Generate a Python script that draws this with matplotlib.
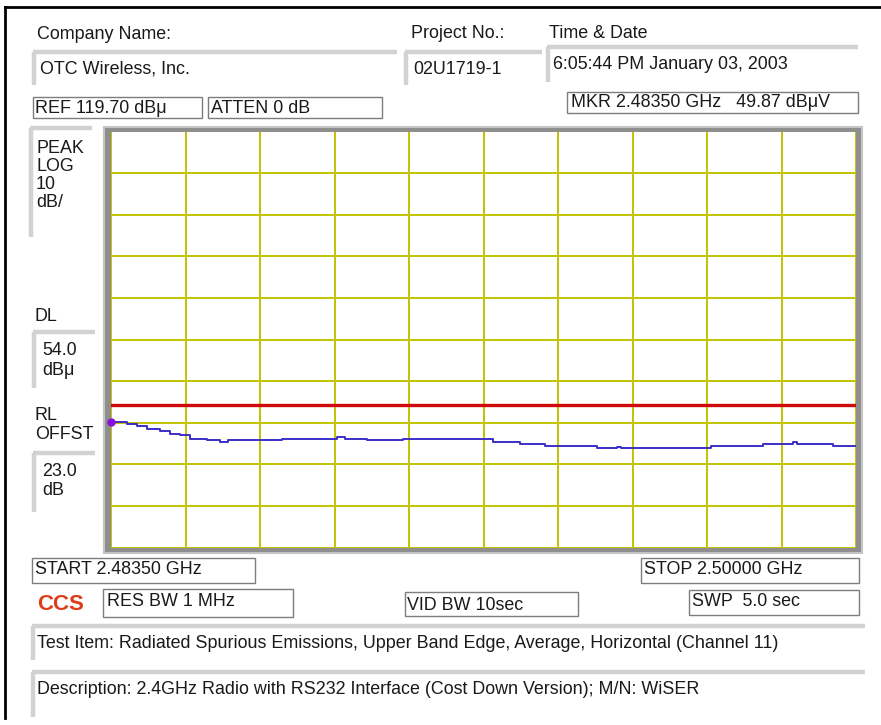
import numpy as np
import matplotlib
matplotlib.use('Agg')
import matplotlib.pyplot as plt
from matplotlib.patches import Rectangle

plt.rcParams['font.family'] = ['Liberation Sans', 'DejaVu Sans']

# sweep settings
start_ghz = 2.48350
stop_ghz = 2.50000
ref_level = 119.70
db_per_div = 10
display_line = 54.0
marker_freq = 2.48350
marker_level = 49.87

# trace (GHz, dBuV), step style
trace_freq = [2.48350, 2.48385, 2.48408, 2.48430, 2.48459, 2.48481, 2.48503, 2.48525,
              2.48563, 2.48591, 2.48609, 2.48729, 2.48851, 2.48868, 2.48917, 2.48997,
              2.49196, 2.49256, 2.49311, 2.49426, 2.49471, 2.49480, 2.49679, 2.49794,
              2.49861, 2.49870, 2.49949, 2.50000]
trace_level = [49.87, 49.3, 48.8, 48.1, 47.6, 47.1, 46.7, 45.9,
               45.6, 45.1, 45.5, 45.8, 46.3, 45.8, 45.5, 45.8,
               45.1, 44.7, 44.1, 43.6, 43.9, 43.6, 44.1, 44.7,
               45.0, 44.7, 44.1, 44.1]

W, H = 881, 725
fig = plt.figure(figsize=(W / 100, H / 100), dpi=100)
fig.patch.set_facecolor('white')

# overlay axes in pixel units for the instrument panel
bg = fig.add_axes([0, 0, 1, 1])
bg.set_xlim(0, W)
bg.set_ylim(H, 0)
bg.axis('off')

fs = 12.9
bevel = '#d2d2d2'
boxedge = '#7d7d7d'

def txt(s, x, y, **kw):
    kw.setdefault('fontsize', fs)
    kw.setdefault('color', '#1a1a1a')
    bg.text(x, y, s, ha='left', va='center', **kw)

def sunken(x0, x1, y0, y1):
    bg.plot([x0, x1], [y0, y0], color=bevel, lw=3.2, solid_capstyle='butt')
    bg.plot([x0 + 1, x0 + 1], [y0, y1], color=bevel, lw=3.2, solid_capstyle='butt')

def box(x0, x1, y0, y1):
    bg.add_patch(Rectangle((x0, y0), x1 - x0, y1 - y0, facecolor='white',
                           edgecolor=boxedge, lw=1.0))

# black screenshot border
bg.plot([5, 5], [7, 718], color='black', lw=2)
bg.plot([5, W], [7, 7], color='black', lw=2)

# header fields
txt('Company Name:', 37, 34)
sunken(33, 397, 52, 85)
txt('OTC Wireless, Inc.', 40, 69)
txt('Project No.:', 411, 33)
sunken(405, 542, 52, 85)
txt('02U1719-1', 413, 69)
txt('Time & Date', 549, 33)
sunken(547, 858, 47, 82)
txt('6:05:44 PM January 03, 2003', 553, 64)

box(33, 202, 97, 118)
txt('REF 119.70 dBμ', 35, 108)
box(208, 382, 97, 118)
txt('ATTEN 0 dB', 211, 108)
box(567, 858, 92, 113)
txt('MKR 2.48350 GHz   49.87 dBμV', 571, 102)

# left side labels
sunken(30, 92, 128, 237)
txt('PEAK', 36, 148)
txt('LOG', 36, 166)
txt('10', 36, 184)
txt('dB/', 36, 202)
txt('DL', 35, 316)
sunken(33, 95, 332, 388)
txt('54.0', 42, 350)
txt('dBμ', 42, 370)
txt('RL', 35, 415)
txt('OFFST', 35, 434)
sunken(33, 95, 453, 512)
txt('23.0', 42, 471)
txt('dB', 42, 490)

# gray frame round the screen
bg.add_patch(Rectangle((104, 127), 758, 426, facecolor='#8e8e8e',
                       edgecolor='#c4c4c4', lw=1.5))

# bottom fields
box(32, 255, 558, 583)
txt('START 2.48350 GHz', 35, 570)
box(641, 859, 558, 583)
txt('STOP 2.50000 GHz', 644, 570)
txt('CCS', 37, 605, fontsize=16, color='#dc3c18', fontweight='bold')
box(103, 293, 589, 617)
txt('RES BW 1 MHz', 107, 602)
box(405, 578, 592, 616)
txt('VID BW 10sec', 407, 605)
box(689, 859, 590, 615)
txt('SWP  5.0 sec', 692, 602)
sunken(32, 865, 626, 660)
txt('Test Item: Radiated Spurious Emissions, Upper Band Edge, Average, Horizontal (Channel 11)', 37, 643)
sunken(32, 865, 672, 717)
txt('Description: 2.4GHz Radio with RS232 Interface (Cost Down Version); M/N: WiSER', 37, 690)

# analyzer screen
left, right, top, bottom = 111, 856, 131.5, 547.5
ax = fig.add_axes([left / W, 1 - bottom / H, (right - left) / W, (bottom - top) / H])
ax.set_facecolor('white')
ax.set_xlim(start_ghz, stop_ghz)
ax.set_ylim(ref_level - 10 * db_per_div, ref_level)
ax.set_xticks(np.linspace(start_ghz, stop_ghz, 11))
ax.set_yticks(np.linspace(ref_level - 10 * db_per_div, ref_level, 11))
ax.grid(True, color='#c3c300', lw=1.4)
ax.tick_params(length=0, labelbottom=False, labelleft=False)
for s in ax.spines.values():
    s.set_visible(False)

ax.axhline(display_line, color='#cc0a0a', lw=2.4)
ax.plot(trace_freq, trace_level, drawstyle='steps-post', color='#3a2ec8', lw=1.4)
ax.plot([marker_freq], [marker_level], 'o', color='#8a10e0', ms=5, clip_on=False)

fig.savefig('out.png', dpi=100)
